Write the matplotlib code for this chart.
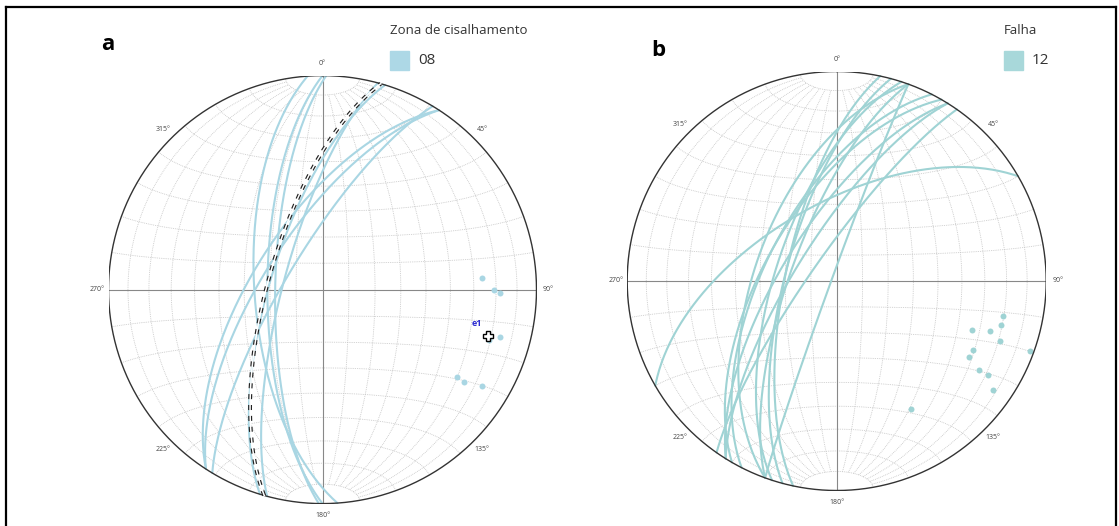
import numpy as np
import matplotlib
matplotlib.use("Agg")
import matplotlib.pyplot as plt
from matplotlib.lines import Line2D
from matplotlib.patches import Rectangle

plt.rcParams['font.family'] = ['Open Sans', 'DejaVu Sans']

# panel a: shear zone planes (dip direction, dip)
shear_dipdir = [266, 270, 271, 285, 287, 303, 303, 301]
shear_dip = [64, 69, 72, 75, 70, 64, 68, 76]
# panel b: fault planes (dip direction, dip)
fault_dipdir = [282, 285, 290, 288, 290, 290, 297, 300, 302, 302, 305, 330]
fault_dip = [70, 70, 58, 66, 72, 88, 62, 62, 69, 74, 80, 60]

shear_title, shear_count = "Zona de cisalhamento", "08"
fault_title, fault_count = "Falha", "12"
az_labels = [0, 45, 90, 135, 180, 225, 270, 315]

W, H = 1119, 526
col_a = '#a9d6e3'
col_b = '#9fd3d4'


def project(n, e, d):
    # lower hemisphere equal-area (Schmidt) projection
    k = 1.0 / np.sqrt(1.0 + d)
    return e * k, n * k


def net(ax):
    t = np.radians(np.linspace(0, 360, 361))
    ax.plot(np.sin(t), np.cos(t), color='#333333', lw=1.0, zorder=5)
    # meridians, stopping at 80 deg latitude
    for lam in range(-80, 81, 10):
        if lam == 0:
            continue
        phi = np.radians(np.linspace(-80, 80, 161))
        l = np.radians(lam)
        x, y = project(np.sin(phi), np.cos(phi) * np.sin(l), np.cos(phi) * np.cos(l))
        ax.plot(x, y, color='#c4c4c4', lw=0.6, ls=(0, (1, 1.2)), zorder=1)
    # parallels
    for ph in range(-80, 81, 10):
        if ph == 0:
            continue
        lam = np.radians(np.linspace(-90, 90, 181))
        p = np.radians(ph)
        x, y = project(np.sin(p) * np.ones_like(lam), np.cos(p) * np.sin(lam), np.cos(p) * np.cos(lam))
        ax.plot(x, y, color='#c4c4c4', lw=0.6, ls=(0, (1, 1.2)), zorder=1)
    ax.plot([0, 0], [-1, 1], color='#888888', lw=0.8, zorder=2)
    ax.plot([-1, 1], [0, 0], color='#888888', lw=0.8, zorder=2)
    for a in az_labels:
        r = 1.055
        ax.text(r * np.sin(np.radians(a)), r * np.cos(np.radians(a)), f"{a}°",
                fontsize=5, color='#444444', ha='center', va='center')
    ax.set_xlim(-1, 1)
    ax.set_ylim(-1, 1)
    ax.set_aspect('equal')
    ax.axis('off')


def great_circle(dd, dip):
    s = np.radians(dd - 90)
    ddr, dr = np.radians(dd), np.radians(dip)
    sv = np.array([np.cos(s), np.sin(s), 0.0])
    dv = np.array([np.cos(ddr) * np.cos(dr), np.sin(ddr) * np.cos(dr), np.sin(dr)])
    t = np.radians(np.linspace(0, 180, 181))
    pts = np.outer(np.cos(t), sv) + np.outer(np.sin(t), dv)
    return project(pts[:, 0], pts[:, 1], pts[:, 2])


def pole_vec(dd, dip):
    tr = np.radians(dd + 180)
    pl = np.radians(90 - dip)
    return np.array([np.cos(tr) * np.cos(pl), np.sin(tr) * np.cos(pl), np.sin(pl)])


def plot_planes(ax, dds, dips, color):
    for dd, dp in zip(dds, dips):
        x, y = great_circle(dd, dp)
        ax.plot(x, y, color=color, lw=1.5, zorder=3, solid_capstyle='round')
        v = pole_vec(dd, dp)
        px, py = project(*v)
        ax.plot(px, py, 'o', ms=4.3, color=color, mec='none', zorder=4)


fig = plt.figure(figsize=(W / 100, H / 100), dpi=100)

# panel a
cx, cy, R = 322.5, 289.6, 214
ax1 = fig.add_axes([(cx - R) / W, (H - cy - R) / H, 2 * R / W, 2 * R / H])
net(ax1)
plot_planes(ax1, shear_dipdir, shear_dip, col_a)

# mean plane from first eigenvector of the poles
vs = np.array([pole_vec(d, p) for d, p in zip(shear_dipdir, shear_dip)])
w, ev = np.linalg.eigh(vs.T @ vs)
e1 = ev[:, -1]
if e1[2] < 0:
    e1 = -e1
tr = np.degrees(np.arctan2(e1[1], e1[0]))
pl = np.degrees(np.arcsin(e1[2]))
mx, my = great_circle(tr + 180, 90 - pl)
ax1.plot(mx, my, color='#222222', lw=2.8, ls=(0, (1.3, 1.5)), zorder=6)
ax1.plot(mx, my, color='white', lw=1.1, zorder=7)
ex, ey = project(*e1)
ax1.plot(ex, ey, 'P', ms=7, mfc='white', mec='black', mew=1.0, zorder=8)
ax1.text(ex - 0.05, ey + 0.04, "e1", color='#2b2bd0', fontsize=6.5,
         fontweight='bold', ha='center', va='bottom', zorder=8)

# panel b
cx, cy, R = 836.7, 281.0, 209.5
ax2 = fig.add_axes([(cx - R) / W, (H - cy - R) / H, 2 * R / W, 2 * R / H])
net(ax2)
plot_planes(ax2, fault_dipdir, fault_dip, col_b)

# panel letters and legends
fig.text(108 / W, 1 - 45 / H, "a", fontsize=16, fontweight='bold', ha='center', va='center')
fig.text(658 / W, 1 - 50 / H, "b", fontsize=16, fontweight='bold', ha='center', va='center')

fig.text(390 / W, 1 - 31 / H, shear_title, fontsize=9.5, color='#333333', va='center')
fig.patches.append(Rectangle((390 / W, 1 - 70 / H), 19 / W, 19 / H, color='#add8e6',
                             transform=fig.transFigure, figure=fig))
fig.text(418 / W, 1 - 60 / H, shear_count, fontsize=11, color='#333333', va='center')

fig.text(1004 / W, 1 - 31 / H, fault_title, fontsize=9.5, color='#333333', va='center')
fig.patches.append(Rectangle((1004 / W, 1 - 70 / H), 19 / W, 19 / H, color='#a8d8da',
                             transform=fig.transFigure, figure=fig))
fig.text(1032 / W, 1 - 60 / H, fault_count, fontsize=11, color='#333333', va='center')

# outer frame
for xs, ys in [([6, 6], [7, 530]), ([6, 1116], [7, 7]), ([1116, 1116], [7, 530])]:
    fig.add_artist(Line2D([x / W for x in xs], [1 - y / H for y in ys], color='black', lw=1.6))

fig.savefig("out.png", dpi=100)
